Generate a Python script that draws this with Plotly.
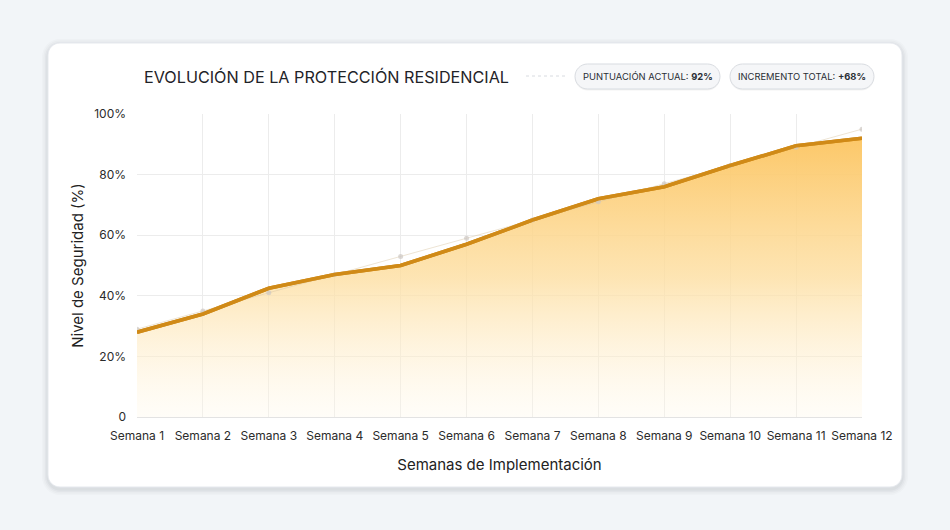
import plotly.graph_objects as go

weeks = ["Semana 1", "Semana 2", "Semana 3", "Semana 4", "Semana 5", "Semana 6",
         "Semana 7", "Semana 8", "Semana 9", "Semana 10", "Semana 11", "Semana 12"]
security_level = [28, 34, 42.5, 47, 50, 57, 65, 72, 76, 83, 89.5, 92]
reference_level = [29, 35, 41, 47, 53, 59, 65, 71, 77, 83, 89, 95]
y_tick_vals = [0, 20, 40, 60, 80, 100]
y_tick_text = ["0", "20%", "40%", "60%", "80%", "100%"]

W, H = 950, 530
L, R, T, B = 137, 862, 114, 417
PW, PH = R - L, B - T

def px(x):
    return (x - L) / PW

def py(y):
    return (B - y) / PH

def rrect(x0, y0, x1, y1, r):
    k = 0.45 * r
    pts = [
        ("M", x0 + r, y0), ("L", x1 - r, y0),
        ("C", x1 - k, y0, x1, y0 + k, x1, y0 + r),
        ("L", x1, y1 - r),
        ("C", x1, y1 - k, x1 - k, y1, x1 - r, y1),
        ("L", x0 + r, y1),
        ("C", x0 + k, y1, x0, y1 - k, x0, y1 - r),
        ("L", x0, y0 + r),
        ("C", x0, y0 + k, x0 + k, y0, x0 + r, y0),
    ]
    s = ""
    for p in pts:
        nums = p[1:]
        coords = [f"{px(nums[i]):.5f},{py(nums[i+1]):.5f}" for i in range(0, len(nums), 2)]
        s += p[0] + " " + " ".join(coords) + " "
    return s + "Z"

shapes = []
# card shadow
for i, op in enumerate([0.02, 0.025, 0.03, 0.04]):
    d = 6 - i * 1.5
    shapes.append(dict(type="path", xref="paper", yref="paper",
                       path=rrect(48 - d, 43 - d + 2, 902 + d, 487 + d + 2, 12 + d),
                       fillcolor=f"rgba(30,40,60,{op})", line=dict(width=0), layer="below"))
shapes.append(dict(type="path", xref="paper", yref="paper",
                   path=rrect(48, 43, 902, 487, 12),
                   fillcolor="white", line=dict(color="#e6e9ee", width=1), layer="below"))
# dotted separator
shapes.append(dict(type="line", xref="paper", yref="paper",
                   x0=px(526), x1=px(566), y0=py(76), y1=py(76),
                   line=dict(color="#d8dbe0", width=1, dash="dot")))
# pills
for (a, b) in [(575, 720), (730, 874)]:
    shapes.append(dict(type="path", xref="paper", yref="paper",
                       path=rrect(a, 65.5, b, 90.5, 12.5),
                       fillcolor="rgba(0,0,0,0.05)", line=dict(width=0)))
    shapes.append(dict(type="path", xref="paper", yref="paper",
                       path=rrect(a, 64, b, 89, 12.5),
                       fillcolor="#f5f6f8", line=dict(color="#d9dce1", width=1)))

fig = go.Figure()
fig.add_trace(go.Scatter(
    x=weeks, y=security_level, mode="lines",
    line=dict(color="#d08a17", width=3.6),
    fill="tozeroy",
    fillgradient=dict(type="vertical",
                      colorscale=[[0, "rgba(255,248,232,0.3)"], [0.5, "rgba(253,222,160,0.8)"],
                                  [1, "rgba(252,198,100,0.97)"]]),
    hoverinfo="skip", showlegend=False,
))
fig.add_trace(go.Scatter(
    x=weeks, y=reference_level, mode="lines+markers",
    line=dict(color="rgba(215,195,160,0.45)", width=1),
    marker=dict(size=5, color="rgba(205,200,195,0.7)"),
    hoverinfo="skip", showlegend=False,
))
fig.add_trace(go.Scatter(
    x=weeks, y=security_level, mode="lines",
    line=dict(color="#d08a17", width=3.6),
    hoverinfo="skip", showlegend=False,
))

annotations = [
    dict(text="EVOLUCIÓN DE LA PROTECCIÓN RESIDENCIAL", xref="paper", yref="paper",
         x=px(142), y=py(77), xanchor="left", yanchor="middle", showarrow=False,
         font=dict(size=16.2, color="#1f2328", family="Inter")),
    dict(text="PUNTUACIÓN ACTUAL: <b>92%</b>", xref="paper", yref="paper",
         x=px(647.5), y=py(76.5), xanchor="center", yanchor="middle", showarrow=False,
         font=dict(size=9.4, color="#2a2e35", family="Inter")),
    dict(text="INCREMENTO TOTAL: <b>+68%</b>", xref="paper", yref="paper",
         x=px(802), y=py(76.5), xanchor="center", yanchor="middle", showarrow=False,
         font=dict(size=9.4, color="#2a2e35", family="Inter")),
]

fig.update_layout(
    width=W, height=H,
    margin=dict(l=L, r=W - R, t=T, b=H - B, pad=0),
    paper_bgcolor="#f2f5f8", plot_bgcolor="rgba(0,0,0,0)",
    font=dict(family="Inter", color="#333"),
    shapes=shapes, annotations=annotations,
    xaxis=dict(range=[0, 11], showgrid=True, gridcolor="#ececec", gridwidth=1,
               showline=True, linecolor="#e3e3e3", ticks="", zeroline=False,
               ticklabelstandoff=8,
               tickfont=dict(size=12, color="#2b2b2b"),
               title=dict(text="Semanas de Implementación", font=dict(size=15, color="#222"), standoff=17)),
    yaxis=dict(range=[0, 100], tickvals=y_tick_vals, ticktext=y_tick_text,
               showgrid=True, gridcolor="#ececec", gridwidth=1, zeroline=False,
               ticks="", ticklabelstandoff=10,
               tickfont=dict(size=12, color="#2b2b2b"),
               title=dict(text="Nivel de Seguridad (%)", font=dict(size=15, color="#222"), standoff=6)),
)
fig.update_xaxes(layer="below traces")

fig.write_html("out.html", config={"displayModeBar": False},
               post_script="document.body.style.margin='0';document.body.style.overflow='hidden';")
